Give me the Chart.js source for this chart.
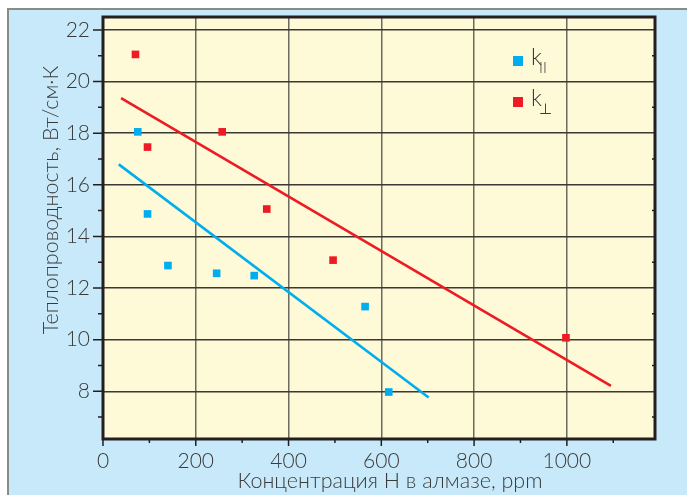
<!DOCTYPE html>
<html>
<head>
<meta charset="utf-8">
<script src="https://cdn.jsdelivr.net/npm/chart.js@4.4.1/dist/chart.umd.min.js"></script>
<style>
  html, body { margin: 0; padding: 0; background: #fff; }
  #wrap { width: 687px; height: 495px; position: relative; }
</style>
</head>
<body>
<div id="wrap"><canvas id="c" width="687" height="495"></canvas></div>
<script>
// Data
const parX = [75, 96, 140, 245, 326, 565, 616];
const parY = [18.05, 14.87, 12.87, 12.57, 12.48, 11.28, 7.97];
const perpX = [70, 96, 257, 353, 496, 998];
const perpY = [21.05, 17.46, 18.05, 15.06, 13.08, 10.07];
const parFitX = [34, 702];
const parFitY = [16.79, 7.76];
const perpFitX = [39, 1095];
const perpFitY = [19.36, 8.21];

const xTicks = [0, 200, 400, 600, 800, 1000];
const xMinor = [100, 300, 500, 700, 900, 1100];
const yTicks = [8, 10, 12, 14, 16, 18, 20, 22];
const yMinor = [7, 9, 11, 13, 15, 17, 19, 21];

const xTitle = 'Концентрация Н в алмазе, ppm';
const yTitle = 'Теплопроводность, Вт/см·К';

const BLUE = '#00aeef';
const RED = '#ed1c24';
const TEXT = '#3a3a3a';
const FONT = 'Lato';

const pts = (xs, ys) => xs.map((x, i) => ({ x: x, y: ys[i] }));

// backgrounds, frame, ticks, titles and legend
const decor = {
  id: 'decor',
  beforeDraw(chart) {
    const ctx = chart.ctx, a = chart.chartArea;
    ctx.save();
    ctx.fillStyle = '#fff';
    ctx.fillRect(0, 0, chart.width, chart.height);
    ctx.fillStyle = '#c8e9f9';
    ctx.fillRect(8, 9, chart.width, chart.height);
    ctx.strokeStyle = '#8a8a8a';
    ctx.lineWidth = 2;
    ctx.beginPath();
    ctx.moveTo(8, chart.height);
    ctx.lineTo(8, 9);
    ctx.lineTo(chart.width, 9);
    ctx.stroke();
    ctx.fillStyle = '#fef9d7';
    ctx.fillRect(a.left, a.top, a.right - a.left, a.bottom - a.top);
    ctx.restore();
  },
  afterDatasetsDraw(chart) {
    const ctx = chart.ctx, a = chart.chartArea;
    const xs = chart.scales.x, ys = chart.scales.y;
    ctx.save();
    ctx.strokeStyle = '#231f20';
    ctx.lineWidth = 1.5;
    ctx.beginPath();
    yTicks.forEach(v => { const y = ys.getPixelForValue(v); ctx.moveTo(a.left - 10, y); ctx.lineTo(a.left, y); });
    yMinor.forEach(v => {
      const y = ys.getPixelForValue(v);
      ctx.moveTo(a.left - 5, y); ctx.lineTo(a.left, y);
      ctx.moveTo(a.right, y); ctx.lineTo(a.right - 3, y);
    });
    xTicks.forEach(v => { const x = xs.getPixelForValue(v); ctx.moveTo(x, a.bottom); ctx.lineTo(x, a.bottom + 7); });
    xMinor.forEach(v => { const x = xs.getPixelForValue(v); ctx.moveTo(x, a.bottom); ctx.lineTo(x, a.bottom + 4); });
    ctx.stroke();
    ctx.lineWidth = 3;
    ctx.strokeRect(a.left, a.top, a.right - a.left, a.bottom - a.top);

    // axis titles
    ctx.fillStyle = TEXT;
    ctx.font = '300 21.5px ' + FONT;
    ctx.textAlign = 'center';
    ctx.textBaseline = 'middle';
    ctx.fillText(xTitle, 390, 481);
    ctx.translate(51, 200);
    ctx.rotate(-Math.PI / 2);
    ctx.fillText(yTitle, 0, 0);
    ctx.restore();

    // legend
    ctx.save();
    const lx = 518, items = [
      { y: 61, color: BLUE, sub: 'II' },
      { y: 102, color: RED, sub: '⊥' }
    ];
    items.forEach(it => {
      ctx.fillStyle = it.color;
      ctx.fillRect(lx - 5, it.y - 5, 10, 10);
      ctx.fillStyle = TEXT;
      ctx.textAlign = 'left';
      ctx.textBaseline = 'alphabetic';
      ctx.font = '300 23px ' + FONT;
      ctx.fillText('k', lx + 13, it.y + 4);
      ctx.font = '300 15px ' + FONT;
      ctx.fillText(it.sub, lx + 21, it.y + 12);
    });
    ctx.restore();
  }
};

new Chart(document.getElementById('c'), {
  type: 'scatter',
  data: {
    datasets: [
      { label: 'k∥ fit', data: pts(parFitX, parFitY), showLine: true, borderColor: BLUE, borderWidth: 2.6, pointRadius: 0 },
      { label: 'k⊥ fit', data: pts(perpFitX, perpFitY), showLine: true, borderColor: RED, borderWidth: 2.6, pointRadius: 0 },
      { label: 'k∥', data: pts(parX, parY), pointStyle: 'rect', pointRadius: 5.4, borderWidth: 0, backgroundColor: BLUE },
      { label: 'k⊥', data: pts(perpX, perpY), pointStyle: 'rect', pointRadius: 5.4, borderWidth: 0, backgroundColor: RED }
    ]
  },
  options: {
    responsive: false,
    animation: false,
    layout: { padding: { top: 17, right: 32, left: 0, bottom: 0 } },
    plugins: { legend: { display: false }, tooltip: { enabled: false } },
    scales: {
      x: {
        type: 'linear', min: 0, max: 1190,
        afterBuildTicks: s => { s.ticks = xTicks.map(v => ({ value: v })); },
        afterFit: s => { s.height = 56; s.paddingLeft = 0; s.paddingRight = 0; },
        border: { display: false },
        grid: { color: '#6b6a60', lineWidth: 1.5, drawTicks: false },
        ticks: { color: TEXT, padding: 10, maxRotation: 0, callback: v => String(v), font: { family: FONT, size: 21, weight: '300' } }
      },
      y: {
        type: 'linear', min: 6.15, max: 22.5,
        afterBuildTicks: s => { s.ticks = yTicks.map(v => ({ value: v })); },
        afterFit: s => { s.width = 103; s.paddingTop = 0; s.paddingBottom = 0; },
        border: { display: false },
        grid: { color: '#3a3935', lineWidth: 1.5, drawTicks: false },
        ticks: { color: TEXT, padding: 13, font: { family: FONT, size: 21, weight: '300' } }
      }
    }
  },
  plugins: [decor]
});
</script>
</body>
</html>
